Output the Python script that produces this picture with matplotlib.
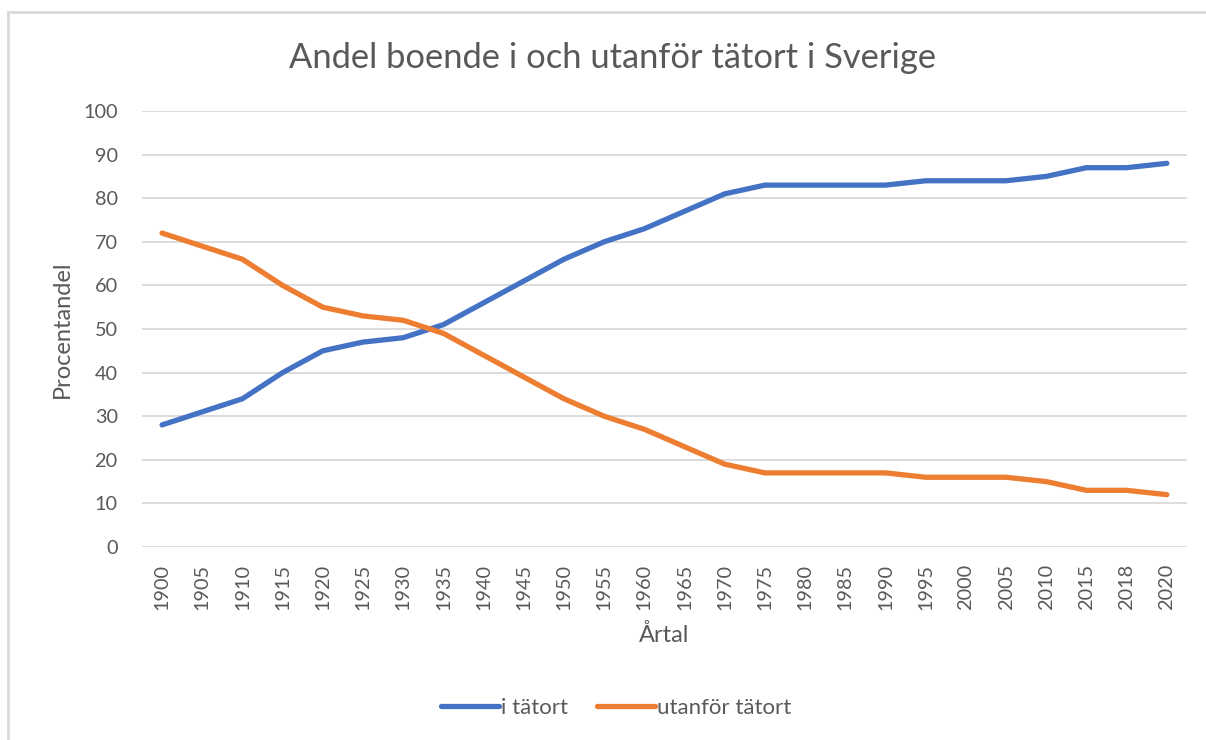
import matplotlib
matplotlib.use('Agg')
import matplotlib.pyplot as plt
from matplotlib.patches import Rectangle

plt.rcParams['font.family'] = ['Lato', 'DejaVu Sans']

artal = ['1900', '1905', '1910', '1915', '1920', '1925', '1930', '1935', '1940',
         '1945', '1950', '1955', '1960', '1965', '1970', '1975', '1980', '1985',
         '1990', '1995', '2000', '2005', '2010', '2015', '2018', '2020']
i_tatort = [28, 31, 34, 40, 45, 47, 48, 51, 56, 61, 66, 70, 73, 77, 81, 83, 83, 83,
            83, 84, 84, 84, 85, 87, 87, 88]
utanfor_tatort = [72, 69, 66, 60, 55, 53, 52, 49, 44, 39, 34, 30, 27, 23, 19, 17, 17,
                  17, 17, 16, 16, 16, 15, 13, 13, 12]

gra = '#595959'
blue = '#4472c4'
orange = '#ed7d31'

fig = plt.figure(figsize=(12.06, 7.40), dpi=100)
ax = fig.add_axes([0.1177, 0.2608, 0.8665, 0.5892])

x = range(len(artal))
ax.plot(x, i_tatort, color=blue, lw=3.8, solid_capstyle='round',
        solid_joinstyle='round', label='i tätort')
ax.plot(x, utanfor_tatort, color=orange, lw=3.8, solid_capstyle='round',
        solid_joinstyle='round', label='utanför tätort')

ax.set_xlim(-0.5, len(artal) - 0.5)
ax.set_ylim(0, 100)
ax.set_yticks(range(0, 101, 10))
ax.set_xticks(list(x))
ax.set_xticklabels(artal, rotation=90)
ax.tick_params(length=0, labelsize=14.3, colors=gra, pad=12)
ax.tick_params(axis='y', pad=17.5)
ax.grid(axis='y', color='#d9d9d9', lw=1.3)
ax.set_axisbelow(True)
for s in ax.spines.values():
    s.set_visible(False)

ax.set_ylabel('Procentandel', fontsize=17, color=gra, labelpad=7.5)
ax.set_xlabel('Årtal', fontsize=17, color=gra, labelpad=10)
fig.text(0.5076, 0.922, 'Andel boende i och utanför tätort i Sverige', ha='center',
         va='center', fontsize=24.8, color=gra)

ax.legend(loc='center', bbox_to_anchor=(0.511, 0.043), bbox_transform=fig.transFigure,
          ncol=2, frameon=False, fontsize=16, labelcolor=gra, handlelength=2.6,
          handletextpad=0.1, columnspacing=1.3)

fig.patches.append(Rectangle((7.5 / 1206, -0.1), 1.2, 1 - 12.5 / 740 + 0.1,
                             transform=fig.transFigure, fill=False,
                             edgecolor='#d9d9d9', lw=2))

fig.savefig('out.png', dpi=100)
